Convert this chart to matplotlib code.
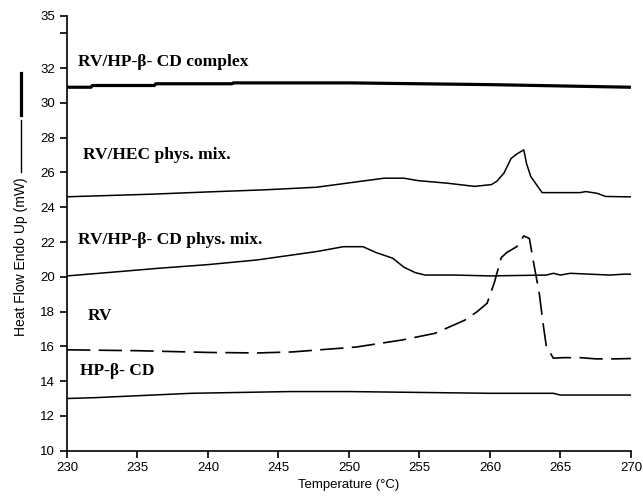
import matplotlib
matplotlib.use("Agg")
import matplotlib.pyplot as plt
from matplotlib.lines import Line2D

# DSC thermograms (temperature in °C, heat flow in mW)
complex_t = [230, 231.7, 231.8, 236.2, 236.3, 241.7, 241.8, 250, 260, 270]
complex_y = [30.9, 30.9, 31.0, 31.0, 31.1, 31.1, 31.15, 31.15, 31.05, 30.9]

hec_t = [230, 232, 236, 240, 244, 247.7, 250, 252.5, 253.9, 254.9, 257, 258.9,
         260.1, 260.5, 261, 261.5, 261.9, 262.4, 262.6, 262.9, 263.7, 266.4,
         266.8, 267.6, 268.2, 269.6, 270]
hec_y = [24.6, 24.65, 24.75, 24.88, 25.0, 25.15, 25.4, 25.67, 25.67, 25.53,
         25.38, 25.2, 25.3, 25.5, 25.97, 26.8, 27.06, 27.3, 26.5, 25.76, 24.84,
         24.84, 24.9, 24.8, 24.62, 24.6, 24.6]

pm_t = [230, 233, 236.5, 240, 243.5, 247.7, 249.6, 251, 251.9, 253.1, 253.9,
        254.7, 255.4, 257.5, 260, 264, 264.5, 265, 265.7, 268.5, 269.5, 270]
pm_y = [20.05, 20.25, 20.49, 20.7, 20.97, 21.45, 21.73, 21.73, 21.4, 21.07,
        20.55, 20.24, 20.1, 20.1, 20.05, 20.1, 20.2, 20.1, 20.2, 20.1, 20.15, 20.15]

rv_t = [230, 235, 240, 243.5, 246, 248.4, 250.5, 253.8, 256.1, 258.2, 259.1,
        259.8, 260.3, 260.8, 261.2, 261.9, 262.4, 262.8, 263.1, 263.5, 263.8,
        264.0, 264.5, 265.2, 266.4, 267.5, 268.9, 270]
rv_y = [15.8, 15.75, 15.65, 15.62, 15.68, 15.83, 15.96, 16.37, 16.75, 17.5,
        18.0, 18.48, 19.63, 21.1, 21.4, 21.73, 22.35, 22.2, 20.8, 19.05, 17.13,
        16.0, 15.32, 15.35, 15.35, 15.28, 15.28, 15.3]

hp_t = [230, 232, 238.8, 245.8, 250, 255, 260, 264.5, 265, 270]
hp_y = [13.0, 13.05, 13.3, 13.4, 13.4, 13.35, 13.3, 13.3, 13.2, 13.2]

labels = ["RV/HP-\u03b2- CD complex", "RV/HEC phys. mix.",
          "RV/HP-\u03b2- CD phys. mix.", "RV", "HP-\u03b2- CD"]
label_x = [230.8, 231.1, 230.8, 231.5, 230.9]
label_y = [32.35, 27.0, 22.1, 17.75, 14.6]

x_ticks = [230, 235, 240, 245, 250, 255, 260, 265, 270]
y_ticks = [10, 12, 14, 16, 18, 20, 22, 24, 26, 28, 30, 32, 34, 35]
y_tick_labels = ["10", "12", "14", "16", "18", "20", "22", "24", "26", "28",
                 "30", "32", "", "35"]

fig = plt.figure(figsize=(6.43, 4.98), dpi=100)
ax = fig.add_axes([0.1042, 0.095, 0.877, 0.873])

ax.plot(complex_t, complex_y, color="black", lw=2.3, solid_capstyle="butt")
ax.plot(hec_t, hec_y, color="black", lw=1.1)
ax.plot(pm_t, pm_y, color="black", lw=1.1)
ax.plot(rv_t, rv_y, color="black", lw=1.2, dashes=(14, 5))
ax.plot(hp_t, hp_y, color="black", lw=1.1)

for txt, lx, ly in zip(labels, label_x, label_y):
    ax.text(lx, ly, txt, family="Liberation Serif", fontweight="bold",
            fontsize=12.5, va="center", ha="left")

ax.set_xlim(230, 270)
ax.set_ylim(10, 35)
ax.set_xticks(x_ticks)
ax.set_yticks(y_ticks)
ax.set_yticklabels(y_tick_labels)
for s in ["top", "right"]:
    ax.spines[s].set_visible(False)
for s in ["left", "bottom"]:
    ax.spines[s].set_linewidth(1.2)
ax.tick_params(direction="out", length=5, width=1.2, labelsize=9.5)
for t in ax.get_xticklabels() + ax.get_yticklabels():
    t.set_family("Liberation Sans")

ax.set_xlabel("Temperature (\u00b0C)", family="Liberation Sans", fontsize=9.5, labelpad=3)

# y-axis title with line keys drawn next to it
fig.text(0.033, 1 - 257 / 498, "Heat Flow Endo Up (mW)", rotation=90,
         family="Liberation Sans", fontsize=10, ha="center", va="center")
fig.add_artist(Line2D([0.033, 0.033], [1 - 115 / 498, 1 - 73 / 498], color="black", lw=2.3,
                      transform=fig.transFigure))
fig.add_artist(Line2D([0.033, 0.033], [1 - 172 / 498, 1 - 120 / 498], color="black", lw=1.0,
                      transform=fig.transFigure))

fig.savefig("out.png", dpi=100)
